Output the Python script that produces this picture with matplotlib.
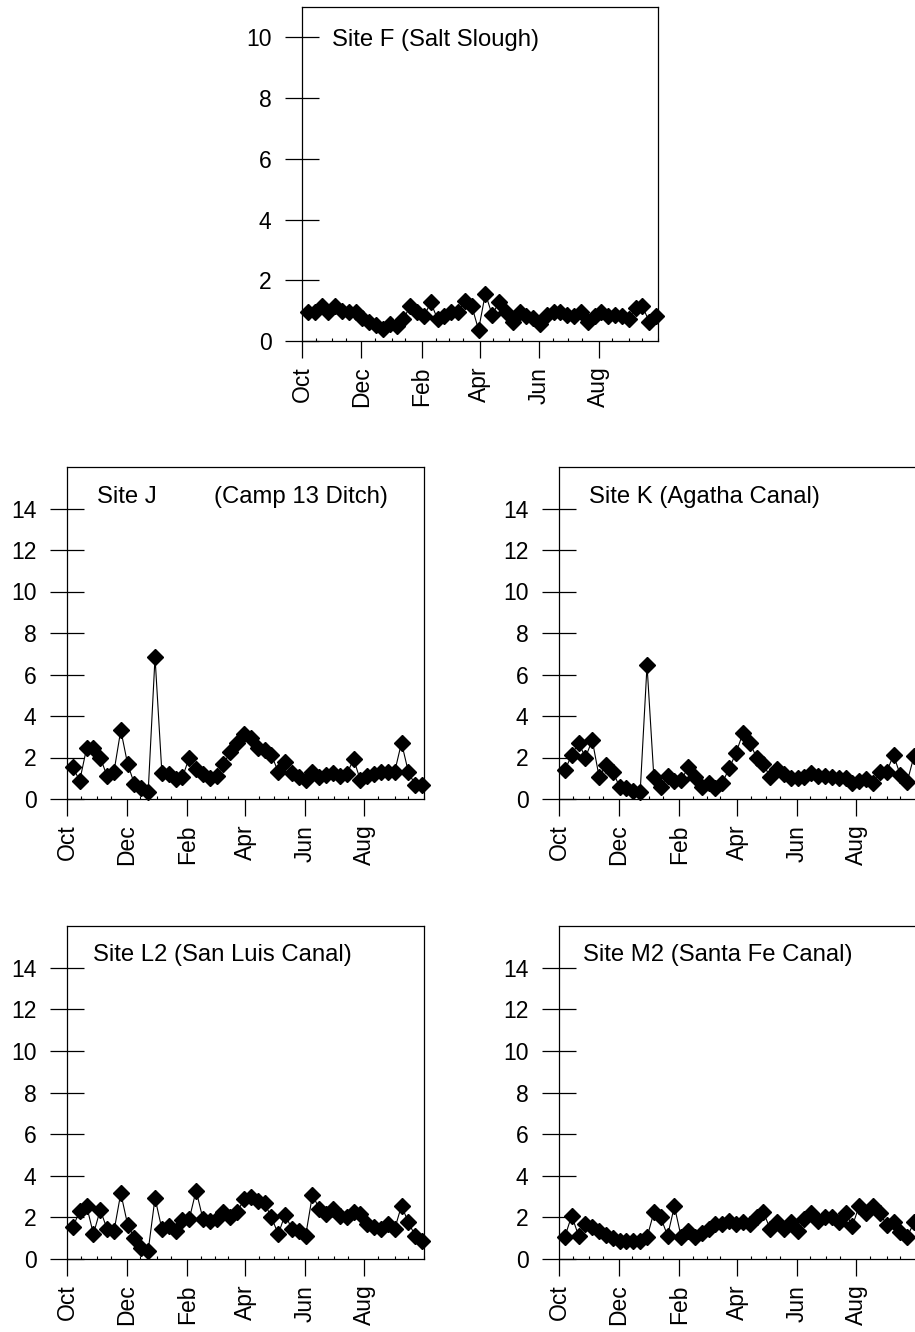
import matplotlib
matplotlib.use("Agg")
import matplotlib.pyplot as plt
import matplotlib.dates as mdates
import pandas as pd

plt.rcParams['font.family'] = ['Liberation Sans', 'DejaVu Sans']

# Weekly sampling dates (water year Oct-Sep)
dates = pd.date_range('1998-10-07', periods=52, freq='7D')
month_ticks = pd.to_datetime(['1998-10-01', '1998-12-01', '1999-02-01',
                              '1999-04-01', '1999-06-01', '1999-08-01'])
month_labels = ['Oct', 'Dec', 'Feb', 'Apr', 'Jun', 'Aug']

site_F = [0.94, 0.94, 1.14, 0.97, 1.16, 1.00, 0.97, 0.94, 0.75, 0.64, 0.53, 0.39, 0.56,
          0.48, 0.72, 1.16, 0.97, 0.81, 1.27, 0.72, 0.83, 0.97, 0.97, 1.31, 1.16, 0.37,
          1.56, 0.86, 1.28, 0.97, 0.64, 0.94, 0.81, 0.75, 0.56, 0.86, 0.94, 0.97, 0.86,
          0.81, 0.97, 0.64, 0.81, 0.94, 0.81, 0.86, 0.81, 0.72, 1.09, 1.14, 0.64, 0.81]
site_J = [1.52, 0.88, 2.44, 2.44, 2.00, 1.10, 1.31, 3.32, 1.68, 0.72, 0.51, 0.35, 6.84,
          1.27, 1.20, 0.95, 1.04, 2.00, 1.43, 1.20, 0.99, 1.10, 1.68, 2.28, 2.71, 3.13,
          2.92, 2.48, 2.36, 2.12, 1.31, 1.79, 1.27, 1.07, 0.91, 1.31, 1.04, 1.15, 1.23,
          1.10, 1.20, 1.91, 0.91, 1.10, 1.20, 1.31, 1.31, 1.31, 2.71, 1.31, 0.67, 0.67]
site_K = [1.39, 2.12, 2.71, 2.00, 2.84, 1.07, 1.63, 1.31, 0.59, 0.51, 0.40, 0.35, 6.44,
          1.04, 0.59, 1.11, 0.88, 0.91, 1.52, 1.04, 0.59, 0.75, 0.51, 0.79, 1.47, 2.23,
          3.16, 2.71, 2.00, 1.68, 1.04, 1.43, 1.20, 0.99, 0.99, 1.04, 1.27, 1.11, 1.11,
          1.04, 0.99, 0.99, 0.79, 0.88, 0.95, 0.79, 1.31, 1.31, 2.12, 1.15, 0.83, 2.07]
site_L2 = [1.52, 2.32, 2.56, 1.20, 2.36, 1.44, 1.33, 3.16, 1.65, 1.01, 0.53, 0.40, 2.93,
           1.44, 1.60, 1.33, 1.88, 1.92, 3.29, 1.92, 1.81, 1.92, 2.24, 2.00, 2.24, 2.88,
           2.96, 2.80, 2.68, 2.00, 1.20, 2.13, 1.44, 1.33, 1.12, 3.09, 2.40, 2.16, 2.40,
           2.08, 2.00, 2.24, 2.16, 1.68, 1.52, 1.44, 1.68, 1.44, 2.56, 1.76, 1.12, 0.88]
site_M2 = [1.07, 2.08, 1.12, 1.68, 1.52, 1.36, 1.17, 1.01, 0.85, 0.85, 0.85, 0.85, 1.04,
           2.24, 2.00, 1.12, 2.53, 1.04, 1.33, 1.04, 1.23, 1.44, 1.68, 1.68, 1.84, 1.68,
           1.76, 1.68, 2.04, 2.24, 1.44, 1.76, 1.44, 1.76, 1.33, 1.92, 2.20, 1.84, 2.00,
           2.00, 1.76, 2.20, 1.60, 2.56, 2.20, 2.56, 2.20, 1.65, 1.76, 1.28, 1.07, 1.76]

W, H = 915, 1332
fig = plt.figure(figsize=(W / 100, H / 100), dpi=100)
fig.patch.set_facecolor('white')

FS = 16.5
TFS = 17.2


def make_axes(left, top, bottom, width=357):
    return fig.add_axes([left / W, (H - bottom) / H, width / W, (bottom - top) / H])


def style(ax, values, ymax, yticks, labels):
    ax.plot(dates, values, color='black', lw=0.8, marker='D', ms=7.9,
            mfc='black', mec='black', clip_on=False, zorder=3)
    ax.set_xlim(pd.Timestamp('1998-10-01'), pd.Timestamp('1999-10-01'))
    ax.set_ylim(0, ymax)
    ax.set_yticks(yticks)
    ax.set_xticks(month_ticks)
    ax.set_xticklabels(month_labels)
    ax.xaxis.set_minor_locator(mdates.MonthLocator(bymonthday=[1, 15]))
    ax.tick_params(axis='x', which='major', direction='out', length=12.5, width=0.9,
                   pad=6, labelsize=FS, labelrotation=90)
    ax.tick_params(axis='x', which='minor', direction='in', length=2, width=0.8)
    ax.tick_params(axis='y', which='major', direction='inout', length=24, width=0.9,
                   pad=10, labelsize=FS)
    for lbl in ax.get_xticklabels():
        lbl.set_verticalalignment('top')
    for sp in ax.spines.values():
        sp.set_linewidth(0.9)
        sp.set_color('black')
    for (txt, x, y) in labels:
        ax.text(x, y, txt, transform=ax.transAxes, fontsize=TFS, ha='left', va='center')


axF = make_axes(302, 7, 341, width=356)
style(axF, site_F, 11, [0, 2, 4, 6, 8, 10], [('Site F (Salt Slough)', 0.084, 0.901)])

axJ = make_axes(67, 467, 799)
style(axJ, site_J, 16, list(range(0, 15, 2)),
      [('Site J', 0.084, 0.910), ('(Camp 13 Ditch)', 0.411, 0.910)])

axK = make_axes(559, 467, 799)
style(axK, site_K, 16, list(range(0, 15, 2)), [('Site K (Agatha Canal)', 0.084, 0.910)])

axL = make_axes(67, 926, 1259)
style(axL, site_L2, 16, list(range(0, 15, 2)), [('Site L2 (San Luis Canal)', 0.073, 0.913)])

axM = make_axes(559, 926, 1259)
style(axM, site_M2, 16, list(range(0, 15, 2)), [('Site M2 (Santa Fe Canal)', 0.067, 0.913)])

fig.savefig('out.png', dpi=100, facecolor='white')
